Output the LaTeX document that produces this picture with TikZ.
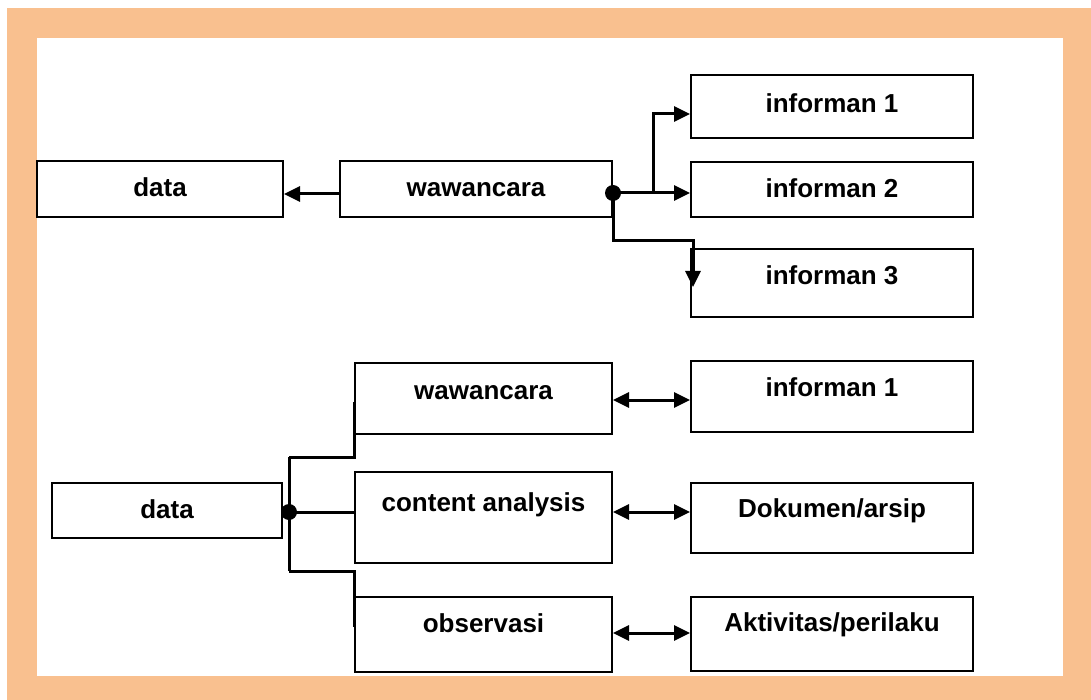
\documentclass[tikz,border=0pt]{standalone}
\usepackage{fontspec}
\setmainfont{Liberation Sans}
\usetikzlibrary{arrows.meta}
\definecolor{peach}{RGB}{249,192,143}

\begin{document}
\begin{tikzpicture}[x=1pt, y=-1pt, box/.style = {draw, line width=2pt, inner sep=0pt, text height=16pt, text depth=0pt, font=\bfseries\fontsize{26}{30}\selectfont}, wide/.style = {box, minimum width=282pt}, mid/.style = {box, minimum width=257pt}, >={Triangle[length=16pt, width=15pt]}, line width=3pt]
\useasboundingbox (0,0) rectangle (1091,700);
\fill[peach] (7,8) rectangle (1091,700);
\fill[white] (37,38) rectangle (1063,676);

\node[box, minimum width=246pt, minimum height=56pt] (data1) at (160,189) {data};
\node[box, minimum width=272pt, minimum height=56pt] (ww1) at (476,189) {wawancara};
\node[wide, minimum height=63pt, text depth=4pt] (inf1) at (832,106.5) {informan 1};
\node[wide, minimum height=55pt] (inf2) at (832,189.5) {informan 2};
\node[wide, minimum height=68pt, text depth=14pt] (inf3) at (832,283) {informan 3};

\node[box, minimum width=230pt, minimum height=55pt] (data2) at (167,510.5) {data};
\node[mid, minimum height=71pt, text depth=15pt] (ww2) at (483.5,398.5) {wawancara};
\node[mid, minimum height=91pt, text depth=29pt] (ca) at (483.5,517.5) {content analysis};
\node[mid, minimum height=75pt, text depth=21pt] (obs) at (483.5,634.5) {observasi};
\node[wide, minimum height=71pt, text depth=17pt] (inf1b) at (832,396.5) {informan 1};
\node[wide, minimum height=70pt, text depth=18pt] (dok) at (832,518) {Dokumen/arsip};
\node[wide, minimum height=74pt, text depth=22pt] (akt) at (832,634) {Aktivitas/perilaku};

\coordinate (hub1) at ([yshift=-4pt]ww1.east);
\coordinate (fork) at (653,193);
\coordinate (bend3) at (693,241);
\coordinate (tip3) at (693,287);
\draw[->] ([yshift=-5pt]ww1.west) -- ([yshift=-5pt]data1.east);
\draw[->] (hub1) -- (hub1 -| inf2.west);
\draw[->] (fork) |- ([yshift=-7.5pt]inf1.west);
\draw[->] (hub1) |- (bend3) -- (tip3);
\fill (hub1) circle (8pt);

\coordinate (hub2) at (289,512);
\coordinate (top2) at (289,457);
\coordinate (bot2) at (289,571);
\draw (top2) -- (bot2);
\draw (top2) -| ([yshift=-40pt]ww2.north west);
\draw (hub2) -- (hub2 -| ca.west);
\draw (bot2) -| ([yshift=-31pt]obs.north west);
\fill (hub2) circle (8pt);

\draw[<->] ([yshift=-1.5pt]ww2.east) -- ([yshift=-1.5pt]ww2.east -| inf1b.west);
\draw[<->] ([yshift=5.5pt]ca.east) -- ([yshift=5.5pt]ca.east -| dok.west);
\draw[<->] ([yshift=1.5pt]obs.east) -- ([yshift=1.5pt]obs.east -| akt.west);
\end{tikzpicture}
\end{document}
